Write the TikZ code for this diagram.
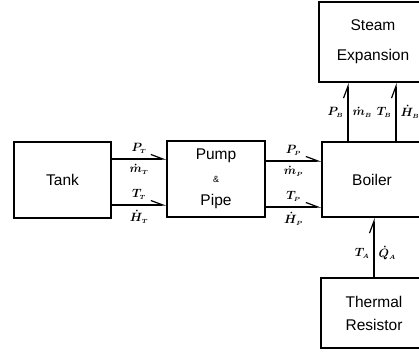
\documentclass[tikz,border=0pt]{standalone}
\usepackage{amsmath}
\usepackage{bm}
\usepackage{fontspec}
\setmainfont{Liberation Sans}
\usepackage{tikz}
\usetikzlibrary{arrows.meta}
\tikzset{
  bloc/.style={
    rectangle, draw=black, line width=1.6pt, align=center,
    inner sep=0pt, font=\fontsize{15.5}{23}\selectfont},
  fleche/.style={-{Straight Barb[harpoon,length=12pt,width=9pt]},
    line width=1.2pt},
  etiquette/.style={font=\boldmath\fontsize{11.5}{13}\selectfont, inner sep=1pt}
}

\begin{document}
\begin{tikzpicture}[x=1pt, y=-1pt]

  \useasboundingbox (0,0) rectangle (419,354);
  \clip (0,0) rectangle (419,354);

  % --- Blocs
  \node[bloc, minimum width=97pt, minimum height=76pt] (tank) at (62.5,180) {Tank};
  \node[bloc, minimum width=98pt, minimum height=76pt] (pump) at (216,179)
    {Pump\\{\fontsize{9}{23}\selectfont\&}\\Pipe};
  \node[bloc, minimum width=100pt, minimum height=75pt] (boiler) at (372,179.5) {Boiler};
  \node[bloc, minimum width=108pt, minimum height=80pt] (steam) at (373,42)
    {Steam\\[7pt]Expansion};
  \node[bloc, minimum width=106pt, minimum height=70pt] (thermal) at (374,313)
    {Thermal\\Resistor};

  % --- Tank -> Pump & Pipe
  \draw[fleche] ([yshift=21pt]tank.east) -- ([yshift=20pt]pump.west)
    node[etiquette, midway, above=4pt] {$P_{\scriptscriptstyle T}$}
    node[etiquette, midway, below=4pt] {$\dot{m}_{\scriptscriptstyle T}$};
  \draw[fleche] ([yshift=-25pt]tank.east) -- ([yshift=-26pt]pump.west)
    node[etiquette, midway, above=4pt] {$T_{\scriptscriptstyle T}$}
    node[etiquette, midway, below=4pt] {$\dot{H}_{\scriptscriptstyle T}$};

  % --- Pump & Pipe -> Boiler
  \draw[fleche] ([yshift=18pt]pump.east) -- ([yshift=18.5pt]boiler.west)
    node[etiquette, midway, above=4pt] {$P_{\scriptscriptstyle P}$}
    node[etiquette, midway, below=4pt] {$\dot{m}_{\scriptscriptstyle P}$};
  \draw[fleche] ([yshift=-28pt]pump.east) -- ([yshift=-27.5pt]boiler.west)
    node[etiquette, midway, above=4pt] {$T_{\scriptscriptstyle P}$}
    node[etiquette, midway, below=4pt] {$\dot{H}_{\scriptscriptstyle P}$};

  % --- Boiler -> Steam Expansion
  \draw[fleche] ([xshift=-24pt]boiler.north) -- ([xshift=-24pt]boiler.north |- steam.south)
    node[etiquette, midway, left=3pt] {$P_{\scriptscriptstyle B}$}
    node[etiquette, midway, right=3pt] {$\dot{m}_{\scriptscriptstyle B}$};
  \draw[fleche] ([xshift=24pt]boiler.north) -- ([xshift=24pt]boiler.north |- steam.south)
    node[etiquette, midway, left=3pt] {$T_{\scriptscriptstyle B}$}
    node[etiquette, midway, right=3pt] {$\dot{H}_{\scriptscriptstyle B}$};

  % --- Thermal Resistor -> Boiler
  \draw[fleche] (thermal.north) -- (thermal.north |- boiler.south)
    node[etiquette, pos=0.4, left=3pt] {$T_{\scriptscriptstyle A}$}
    node[etiquette, pos=0.4, right=3pt] {$\dot{Q}_{\scriptscriptstyle A}$};

\end{tikzpicture}
\end{document}
